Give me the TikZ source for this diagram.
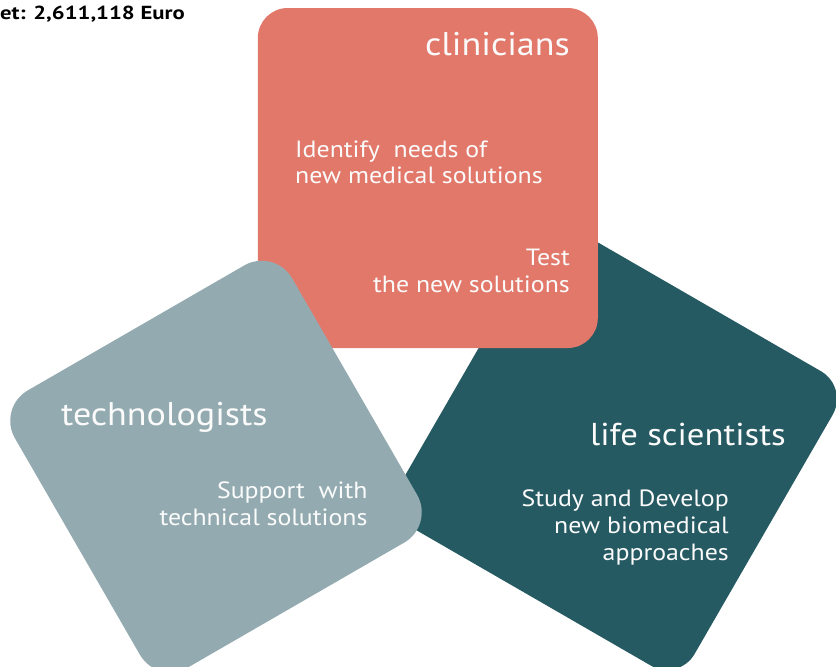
\documentclass[tikz,border=0pt]{standalone}
\usepackage{fontspec}
\setmainfont{PT Sans}[FakeStretch=1.1]
\newfontfamily\budfont{PT Sans}[FakeStretch=1.2, BoldFont={* Bold}]
\definecolor{salmon}{HTML}{E2786A}
\definecolor{tealdk}{HTML}{265A63}
\definecolor{greybl}{HTML}{93ABB0}
\definecolor{txt}{HTML}{FBFBFB}
\begin{document}
\begin{tikzpicture}[x=1pt,y=-1pt,
  tile/.style={inner sep=0pt, outer sep=0pt, draw=none},
  head/.style={inner sep=0pt, text=txt, font=\fontsize{32.8}{36}\selectfont},
  body/.style={inner sep=0pt, text=txt, font=\fontsize{23.5}{27}\selectfont}]
\useasboundingbox (0,0) rectangle (836,667);
% tiles
\node[tile, fill=tealdk, rounded corners=32pt, minimum width=340pt, minimum height=340pt, rotate=-30] (ls) at (616.4,449.4) {};
\node[tile, fill=salmon, rounded corners=30pt, minimum width=340pt, minimum height=340pt] (cl) at (427.8,178) {};
\node[tile, fill=greybl, rounded corners=35pt, minimum width=320pt, minimum height=320pt, rotate=30] (te) at (216,466.5) {};
% budget
\node[inner sep=0pt, anchor=base west, font=\budfont\bfseries\fontsize{18.9}{22}\selectfont] (bud) at (0,19.5) {et: 2,611,118 Euro};
% clinicians
\node[head, anchor=base east] (clh) at (570,55) {clinicians};
\node[body, anchor=base west] (cl1) at (295,157) {Identify\ \ needs of};
\node[body, anchor=base west] (cl2) at (295,183) {new medical solutions};
\node[body, anchor=base east] (cl3) at (570,265) {Test};
\node[body, anchor=base east] (cl4) at (570,292) {the new solutions};
% life scientists
\node[head, anchor=base east, font=\fontsize{31.6}{36}\selectfont] (lsh) at (786,445) {life scientists};
\node[body, anchor=base east] (ls1) at (729,506) {Study and Develop};
\node[body, anchor=base east] (ls2) at (729,533) {new biomedical};
\node[body, anchor=base east] (ls3) at (729,560) {approaches};
% technologists
\node[head, anchor=base west] (teh) at (61,425) {technologists};
\node[body, anchor=base east] (te1) at (367.7,498) {Support\ \ with};
\node[body, anchor=base east] (te2) at (367.7,525) {technical solutions};
\end{tikzpicture}
\end{document}
